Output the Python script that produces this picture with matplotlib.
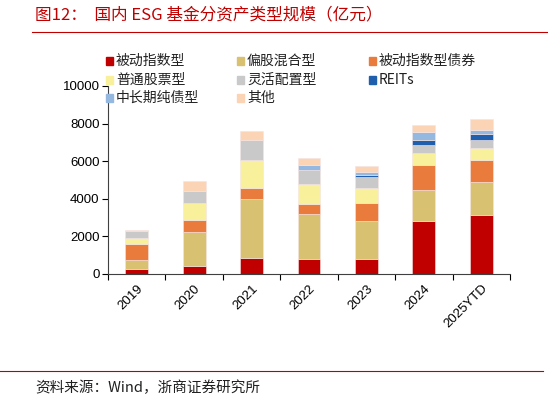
import numpy as np
import matplotlib
matplotlib.use("Agg")
import matplotlib.pyplot as plt
from matplotlib.lines import Line2D
from matplotlib.patches import Rectangle

plt.rcParams["font.family"] = ["Liberation Sans", "Noto Sans CJK SC", "DejaVu Sans"]
cjk = ["Noto Sans CJK SC", "DejaVu Sans"]

years = ["2019", "2020", "2021", "2022", "2023", "2024", "2025YTD"]

# 亿元
passive_index = [290, 405, 830, 815, 815, 2835, 3115]
equity_mixed = [480, 1845, 3160, 2375, 2020, 1635, 1760]
passive_bond = [800, 600, 600, 550, 940, 1310, 1190]
stock = [320, 905, 1490, 1065, 815, 655, 615]
flexible = [390, 640, 1030, 745, 585, 445, 450]
reits = [0, 0, 0, 0, 105, 265, 295]
mid_long_bond = [20, 20, 40, 230, 160, 390, 250]
others = [20, 510, 445, 410, 305, 390, 570]

series = [
    ("被动指数型", passive_index, "#C00000"),
    ("偏股混合型", equity_mixed, "#D9C172"),
    ("被动指数型债券", passive_bond, "#E97C3C"),
    ("普通股票型", stock, "#F8F09B"),
    ("灵活配置型", flexible, "#C9C9C9"),
    ("REITs", reits, "#1F5FAD"),
    ("中长期纯债型", mid_long_bond, "#95B8E0"),
    ("其他", others, "#FBD3B5"),
]

W, H = 548, 403
fig = plt.figure(figsize=(W / 100, H / 100), dpi=100)
ax = fig.add_axes([108 / W, 1 - 274 / H, 402 / W, 188 / H])

x = np.arange(len(years))
bottom = np.zeros(len(years))
for name, vals, col in series:
    vals = np.array(vals, dtype=float)
    ax.bar(x, vals, 0.4, bottom=bottom, color=col, edgecolor="#F4E4E4", linewidth=0.4)
    bottom += vals

ax.set_xlim(-0.5, len(years) - 0.5)
ax.set_ylim(0, 10000)
ax.set_yticks(range(0, 10001, 2000))
ax.tick_params(axis="y", labelsize=9.5, length=4, width=0.8, direction="out", pad=2)

ax.set_xticks(x)
ax.set_xticklabels(years, rotation=45, ha="right", rotation_mode="anchor", fontsize=9.5)
ax.tick_params(axis="x", which="major", length=0, pad=6)
ax.set_xticks(np.arange(-0.5, len(years)), minor=True)
ax.tick_params(axis="x", which="minor", length=4, width=0.8, direction="out")

for s in ["top", "right"]:
    ax.spines[s].set_visible(False)
for s in ["left", "bottom"]:
    ax.spines[s].set_color("#404040")
    ax.spines[s].set_linewidth(0.8)

# legend laid out row by row, three columns
col_x = [106, 237, 369]
row_y = [61, 80, 98]
for i, (name, vals, col) in enumerate(series):
    cx = col_x[i % 3]
    cy = row_y[i // 3]
    fig.add_artist(Rectangle((cx / W, 1 - (cy + 3.5) / H), 7 / W, 7 / H,
                             color=col, transform=fig.transFigure))
    fig.text((cx + 10) / W, 1 - cy / H, name, fontsize=10, family=cjk,
             va="center", ha="left", color="#202020")

# title and source
fig.text(35 / W, 1 - 15 / H, "图12：  国内 ESG 基金分资产类型规模（亿元）", color="#C00000",
         fontsize=12, family=cjk, va="center")
fig.add_artist(Line2D([32 / W, 1.0], [1 - 31.5 / H, 1 - 31.5 / H], color="#C00000", linewidth=0.8))
fig.add_artist(Line2D([0.0, 0.99], [1 - 371 / H, 1 - 371 / H], color="#C00000", linewidth=0.8))
fig.text(35 / W, 1 - 388 / H, "资料来源：Wind，浙商证券研究所", color="#202020",
         fontsize=10.5, family=cjk, va="center")

fig.savefig("out.png", dpi=100)
